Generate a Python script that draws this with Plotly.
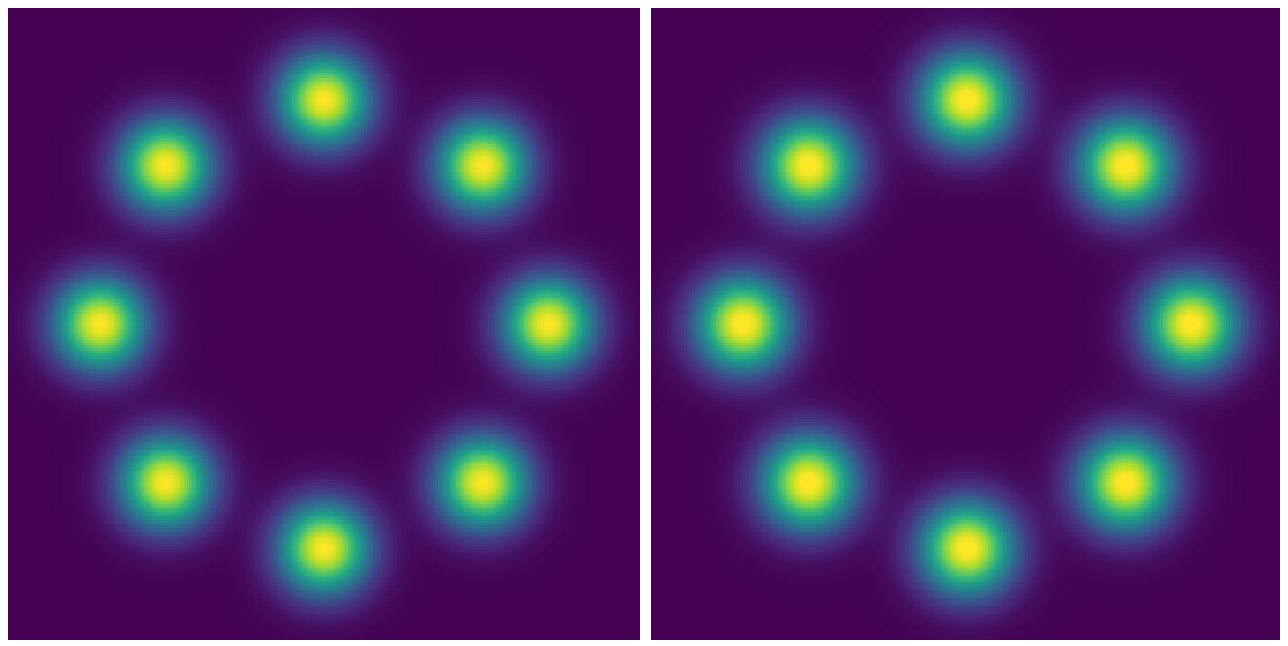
import numpy as np
import plotly.graph_objects as go

# Mixture of 8 Gaussian modes on a ring
mode_angles_deg = [0, 45, 90, 135, 180, 225, 270, 315]
ring_radius = 0.709          # in units where the panel spans [-1, 1]
sigma_true = 0.100
sigma_model = 0.103
model_clip = 0.98            # model panel colour saturates slightly earlier
grid_n = 240

grid = np.linspace(-1, 1, grid_n)
X, Y = np.meshgrid(grid, grid)


def mixture(sig):
    z = np.zeros_like(X)
    for a in mode_angles_deg:
        cx = ring_radius * np.cos(np.radians(a))
        cy = ring_radius * np.sin(np.radians(a))
        z += np.exp(-((X - cx) ** 2 + (Y - cy) ** 2) / (2 * sig ** 2))
    return z


z_true = mixture(sigma_true)
z_model = mixture(sigma_model)

fig = go.Figure()
fig.add_trace(go.Heatmap(x=grid, y=grid, z=z_true, colorscale="Viridis",
                         showscale=False, zmin=0, zmax=z_true.max(),
                         xaxis="x", yaxis="y", hoverinfo="skip"))
fig.add_trace(go.Heatmap(x=grid, y=grid, z=z_model, colorscale="Viridis",
                         showscale=False, zmin=0, zmax=z_model.max() * model_clip,
                         xaxis="x2", yaxis="y2", hoverinfo="skip"))

# page body already adds an 8px offset
W, H = 1275, 632
panel = 632
ax_common = dict(visible=False, showgrid=False, zeroline=False, range=[-1, 1], fixedrange=True)
fig.update_layout(
    width=W, height=H,
    margin=dict(l=0, r=0, t=0, b=0),
    paper_bgcolor="white", plot_bgcolor="white",
    xaxis=dict(domain=[0, panel / W], **ax_common),
    yaxis=dict(domain=[0, 1], anchor="x", **ax_common),
    xaxis2=dict(domain=[(W - panel) / W, 1], anchor="y2", **ax_common),
    yaxis2=dict(domain=[0, 1], anchor="x2", **ax_common),
)

fig.write_html("out.html")
